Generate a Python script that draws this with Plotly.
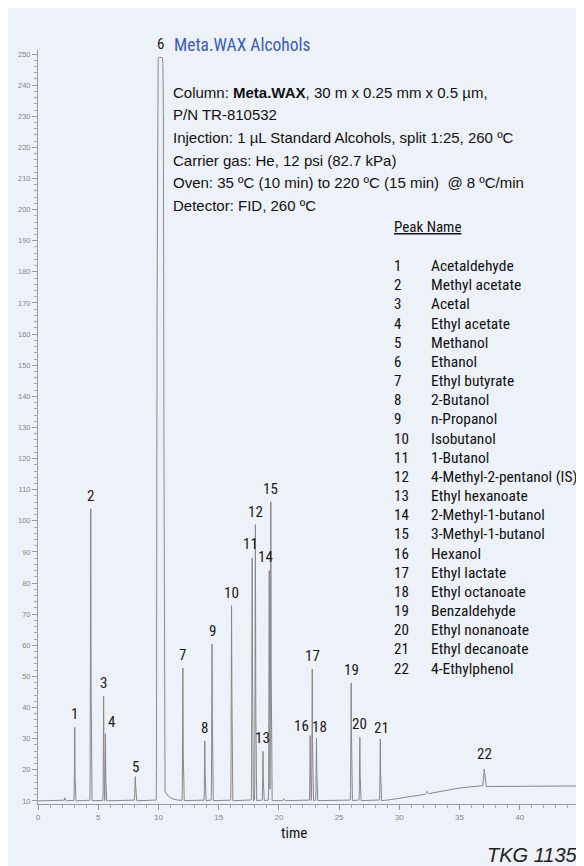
import numpy as np
import plotly.graph_objects as go

# ---------------- data ----------------
peak_ids = [str(i) for i in range(1, 23)]
peak_names = ["Acetaldehyde", "Methyl acetate", "Acetal", "Ethyl acetate", "Methanol",
              "Ethanol", "Ethyl butyrate", "2-Butanol", "n-Propanol", "Isobutanol",
              "1-Butanol", "4-Methyl-2-pentanol (IS)", "Ethyl hexanoate",
              "2-Methyl-1-butanol", "3-Methyl-1-butanol", "Hexanol", "Ethyl lactate",
              "Ethyl octanoate", "Benzaldehyde", "Ethyl nonanoate", "Ethyl decanoate",
              "4-Ethylphenol"]
peak_times = [3.05, 4.38, 5.45, 5.6, 8.08, 10.165, 12.03, 13.85, 14.45, 16.07, 17.78,
              18.05, 18.68, 19.2, 19.33, 22.6, 22.77, 23.12, 26.0, 26.72, 28.42, 37.05]
peak_apex = [33.6, 103.9, 43.6, 31.6, 17.8, 249.0, 52.6, 29.3, 60.4, 72.7, 88.1,
             98.8, 25.9, 84.0, 106.1, 31.0, 52.4, 30.2, 47.9, 30.4, 29.9, 20.2]
peak_width = [0.02, 0.022, 0.02, 0.02, 0.03, 0.30, 0.022, 0.022, 0.022, 0.022, 0.022,
              0.022, 0.022, 0.022, 0.025, 0.022, 0.022, 0.022, 0.022, 0.022, 0.022, 0.05]

minor_times = [2.24, 20.4, 32.3]
minor_heights = [1.0, 0.6, 0.8]

baseline_t = [0.0, 28.8, 30.0, 32.0, 34.0, 35.5, 36.5, 45.0]
baseline_v = [10.0, 10.1, 10.9, 12.0, 13.6, 14.4, 14.6, 14.8]

x_ticks = [0, 5, 10, 15, 20, 25, 30, 35, 40, 45]
y_ticks = list(range(10, 251, 10))

title_text = "Meta.WAX Alcohols"
info_lines = ["Column: <b>Meta.WAX</b>, 30 m x 0.25 mm x 0.5 µm,",
              "P/N TR-810532",
              "Injection: 1 µL Standard Alcohols, split 1:25, 260 ºC",
              "Carrier gas: He, 12 psi (82.7 kPa)",
              "Oven: 35 ºC (10 min) to 220 ºC (15 min) \u00a0@ 8 ºC/min",
              "Detector: FID, 260 ºC"]

# ---------------- build trace from peak table ----------------
t = np.linspace(0, 45, 18001)
base = np.interp(t, baseline_t, baseline_v)
sig = base.copy()
overloaded = 5  # ethanol: flat-topped, tailing
for i, (pt, pa, pw) in enumerate(zip(peak_times, peak_apex, peak_width)):
    amp = pa - np.interp(pt, baseline_t, baseline_v)
    if i == overloaded:
        core = np.exp(-np.abs((t - pt) / pw) ** 12)
        sig += amp * core
        edge = pt + pw
        tail = np.where(t > edge, 3.6 * np.exp(-(t - edge) / 0.4), 0.0)
        sig += tail * (1 - core)
    else:
        sig += amp * np.exp(-0.5 * ((t - pt) / pw) ** 2)
for mt, mh in zip(minor_times, minor_heights):
    sig += mh * np.exp(-0.5 * ((t - mt) / 0.03) ** 2)

BG = "#EDF1F8"
NARROW = "Liberation Sans Narrow, Arial Narrow, Roboto Condensed, Liberation Sans, Arial, sans-serif"
ARIAL = "Liberation Sans, Arial, sans-serif"

fig = go.Figure()
fig.add_trace(go.Scatter(x=t, y=sig, mode="lines",
                         line=dict(color="#888888", width=1), hoverinfo="skip",
                         showlegend=False))

# page has an 8px body margin, so the figure is 8px smaller than the window
W, H = 576, 858
ML, MR, MT, MB = 30, 4, 42, 62
PW, PH = W - ML - MR, H - MT - MB
# reference-page pixel coords of the plot area: x 38..580, y 50..804


def px(xp):
    return (xp - 38) / PW


def py(yp):
    return (804 - yp) / PH


ann = []
# peak labels
label_shift = {"4": (6, 12), "14": (-4, 14), "16": (-9, 10), "18": (3, 11),
               "5": (0, 10), "21": (1, 11), "22": (0, 15), "11": (-2, 14)}
for pid, pt, pa in zip(peak_ids, peak_times, peak_apex):
    xs, ys = label_shift.get(pid, (0, 13))
    ann.append(dict(x=pt, y=pa, xref="x", yref="y", text=pid, showarrow=False,
                    xshift=xs, yshift=ys, yanchor="middle", xanchor="center",
                    font=dict(family=NARROW, size=15, color="#1a1a1a")))

# title + info block
ann.append(dict(x=px(172), y=py(45), xref="paper", yref="paper", text=title_text,
                showarrow=False, xanchor="left", yanchor="middle",
                font=dict(family=NARROW, size=17.5, color="#3b5cbf")))
for k, line in enumerate(info_lines):
    ann.append(dict(x=px(171), y=py(92 + k * 22.7), xref="paper", yref="paper",
                    text=line, showarrow=False, xanchor="left", yanchor="middle",
                    font=dict(family=ARIAL, size=15, color="#111111")))

# peak name table
ann.append(dict(x=px(392), y=py(227), xref="paper", yref="paper",
                text="<u>Peak Name</u>", showarrow=False, xanchor="left",
                yanchor="middle", font=dict(family=NARROW, size=15, color="#111111")))
for k, (pid, name) in enumerate(zip(peak_ids, peak_names)):
    yy = py(266 + k * 19.17)
    ann.append(dict(x=px(392), y=yy, xref="paper", yref="paper", text=pid,
                    showarrow=False, xanchor="left", yanchor="middle",
                    font=dict(family=NARROW, size=15, color="#111111")))
    ann.append(dict(x=px(429), y=yy, xref="paper", yref="paper", text=name,
                    showarrow=False, xanchor="left", yanchor="middle",
                    font=dict(family=NARROW, size=15.5, color="#111111")))

# axis title and footer
ann.append(dict(x=px(294), y=py(833), xref="paper", yref="paper", text="time",
                showarrow=False, xanchor="center", yanchor="middle",
                font=dict(family=NARROW, size=15, color="#111111")))
ann.append(dict(x=px(580), y=py(855), xref="paper", yref="paper", text="<i>TKG 1135</i>",
                showarrow=False, xanchor="right", yanchor="middle",
                font=dict(family=ARIAL, size=20, color="#222222")))

fig.update_layout(
    width=W, height=H, margin=dict(l=ML, r=MR, t=MT, b=MB),
    paper_bgcolor=BG, plot_bgcolor=BG, showlegend=False,
    annotations=ann,
    xaxis=dict(range=[0, 45], tickvals=x_ticks, showgrid=False, zeroline=False,
               showline=True, linecolor="#9a9a9a", linewidth=1,
               ticks="outside", ticklen=5, tickcolor="#9a9a9a",
               minor=dict(dtick=1, ticks="outside", ticklen=3, tickcolor="#aaaaaa"),
               tickfont=dict(family=ARIAL, size=8, color="#888888")),
    yaxis=dict(range=[9.0, 251.3], tickvals=y_ticks, showgrid=False, zeroline=False,
               showline=True, linecolor="#9a9a9a", linewidth=1,
               ticks="outside", ticklen=5, tickcolor="#9a9a9a",
               minor=dict(dtick=2, ticks="outside", ticklen=3, tickcolor="#aaaaaa"),
               tickfont=dict(family=ARIAL, size=7.5, color="#888888")),
)

fig.write_html("out.html")
